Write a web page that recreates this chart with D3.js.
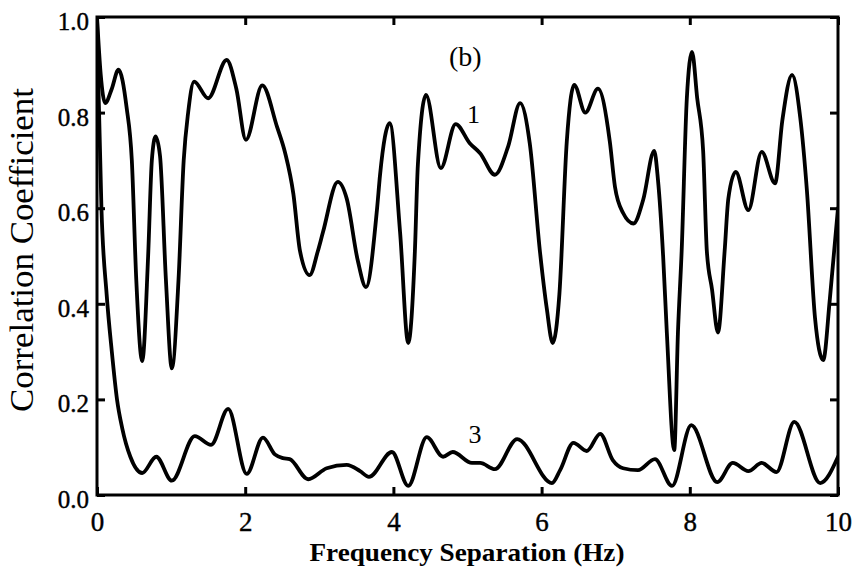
<!DOCTYPE html>
<html>
<head>
<meta charset="utf-8">
<script src="https://cdn.jsdelivr.net/npm/d3@7"></script>
<style>
  html, body { margin: 0; padding: 0; background: #fff; }
  svg { display: block; }
  text { font-family: "Liberation Serif", "DejaVu Serif", serif; fill: #000; }
</style>
</head>
<body>
<svg id="chart" width="853" height="573"></svg>
<script>
// ---- data ----
const xTicks = [0, 2, 4, 6, 8, 10];
const yTicks = [0.0, 0.2, 0.4, 0.6, 0.8, 1.0];
const xLabel = "Frequency Separation (Hz)";
const yLabel = "Correlation Coefficient";
const panelLabel = "(b)";
const seriesNames = ["1", "3"];

const freq1 = [0, 0.05, 0.11, 0.2, 0.29, 0.4, 0.47, 0.53, 0.61, 0.69, 0.74, 0.79, 0.85, 0.93, 1.01, 1.1, 1.17, 1.23, 1.31, 1.5, 1.75, 1.88, 2.01, 2.23, 2.43, 2.54, 2.65, 2.74, 2.87, 2.98, 3.05, 3.25, 3.37, 3.52, 3.63, 3.78, 3.82, 3.95, 4.09, 4.2, 4.29, 4.33, 4.44, 4.64, 4.84, 5.03, 5.17, 5.37, 5.55, 5.71, 5.84, 5.98, 6.07, 6.15, 6.24, 6.34, 6.44, 6.59, 6.76, 6.92, 6.99, 7.1, 7.24, 7.37, 7.52, 7.57, 7.64, 7.69, 7.79, 7.84, 7.89, 7.96, 8.03, 8.1, 8.18, 8.23, 8.3, 8.38, 8.47, 8.52, 8.62, 8.79, 8.97, 9.15, 9.25, 9.38, 9.49, 9.58, 9.69, 9.8, 9.89, 10];
const corr1 = [1.0, 0.88, 0.82, 0.85, 0.89, 0.81, 0.7, 0.45, 0.28, 0.5, 0.7, 0.75, 0.71, 0.45, 0.265, 0.45, 0.7, 0.8, 0.865, 0.83, 0.91, 0.85, 0.743, 0.857, 0.77, 0.715, 0.63, 0.51, 0.46, 0.51, 0.55, 0.655, 0.62, 0.49, 0.435, 0.6, 0.67, 0.778, 0.55, 0.318, 0.51, 0.69, 0.837, 0.684, 0.776, 0.736, 0.715, 0.67, 0.73, 0.82, 0.736, 0.506, 0.39, 0.318, 0.42, 0.74, 0.858, 0.80, 0.85, 0.74, 0.645, 0.59, 0.568, 0.617, 0.72, 0.66, 0.5, 0.34, 0.094, 0.34, 0.51, 0.83, 0.927, 0.83, 0.72, 0.51, 0.43, 0.34, 0.51, 0.62, 0.676, 0.596, 0.718, 0.652, 0.785, 0.879, 0.79, 0.638, 0.37, 0.282, 0.41, 0.6];

const freq3 = [0, 0.02, 0.06, 0.13, 0.2, 0.27, 0.34, 0.45, 0.61, 0.8, 1.01, 1.32, 1.54, 1.77, 2.02, 2.24, 2.4, 2.51, 2.6, 2.85, 3.1, 3.37, 3.55, 3.67, 3.98, 4.2, 4.45, 4.67, 4.8, 5.06, 5.17, 5.37, 5.67, 6.14, 6.25, 6.43, 6.61, 6.79, 6.96, 7.1, 7.3, 7.53, 7.76, 8.02, 8.37, 8.58, 8.79, 8.97, 9.17, 9.41, 9.76, 10];
const corr3 = [1.0, 0.85, 0.6, 0.42, 0.3, 0.2, 0.14, 0.08, 0.046, 0.08, 0.03, 0.123, 0.105, 0.18, 0.044, 0.12, 0.085, 0.077, 0.075, 0.033, 0.056, 0.063, 0.05, 0.038, 0.09, 0.019, 0.121, 0.08, 0.09, 0.067, 0.067, 0.054, 0.117, 0.025, 0.052, 0.109, 0.092, 0.128, 0.073, 0.056, 0.052, 0.075, 0.019, 0.146, 0.027, 0.067, 0.05, 0.067, 0.048, 0.153, 0.025, 0.08];

// ---- layout ----
const svg = d3.select("#chart");
const L = 97, R = 838, T = 17, B = 495;

const x = d3.scaleLinear().domain([0, 10]).range([L, R]);
const y = d3.scaleLinear().domain([0, 1]).range([B, T]);

// curves
const line = d3.line().x(d => x(d[0])).y(d => y(d[1])).curve(d3.curveMonotoneX);
const s1 = freq1.map((f, i) => [f, corr1[i]]);
const s3 = freq3.map((f, i) => [f, corr3[i]]);

svg.append("clipPath").attr("id", "clip")
  .append("rect").attr("x", L).attr("y", T).attr("width", R - L).attr("height", B - T);

const g = svg.append("g").attr("clip-path", "url(#clip)");
[s1, s3].forEach(s => {
  g.append("path").datum(s)
    .attr("d", line)
    .attr("fill", "none")
    .attr("stroke", "#000")
    .attr("stroke-width", 3.8)
    .attr("stroke-linejoin", "round")
    .attr("stroke-linecap", "round");
});

// axes (ticks pointing inward)
const tickLen = 8;
const fmtY = d3.format(".1f");
const axB = svg.append("g").attr("transform", `translate(0,${B})`)
  .call(d3.axisBottom(x).tickValues(xTicks).tickSize(-tickLen).tickPadding(17).tickFormat(d3.format("d")));
const axT = svg.append("g").attr("transform", `translate(0,${T})`)
  .call(d3.axisTop(x).tickValues(xTicks).tickSize(-tickLen).tickFormat(""));
const axL = svg.append("g").attr("transform", `translate(${L},0)`)
  .call(d3.axisLeft(y).tickValues(yTicks).tickSize(-tickLen).tickPadding(8).tickFormat(fmtY));
const axR = svg.append("g").attr("transform", `translate(${R},0)`)
  .call(d3.axisRight(y).tickValues(yTicks).tickSize(-tickLen).tickFormat(""));

[axB, axT, axL, axR].forEach(a => {
  a.select(".domain").remove();
  a.selectAll(".tick line").attr("stroke", "#000").attr("stroke-width", 3);
  a.selectAll(".tick text")
    .style("font-family", '"Liberation Serif", "DejaVu Serif", serif')
    .attr("fill", "#000")
    .attr("stroke", "#000").attr("stroke-width", 0.4);
});
axB.selectAll(".tick text").style("font-size", "27px");
axL.selectAll(".tick text").style("font-size", "25px").attr("dy", "0.5em");

// frame
svg.append("rect")
  .attr("x", L).attr("y", T).attr("width", R - L).attr("height", B - T)
  .attr("fill", "none").attr("stroke", "#000").attr("stroke-width", 3);

// titles
svg.append("text")
  .attr("x", 467).attr("y", 561)
  .attr("text-anchor", "middle")
  .attr("textLength", 315).attr("lengthAdjust", "spacingAndGlyphs")
  .style("font-size", "25px").style("font-weight", "bold")
  .text(xLabel);

svg.append("text")
  .attr("transform", `translate(33,${250}) rotate(-90)`)
  .attr("text-anchor", "middle")
  .attr("textLength", 324).attr("lengthAdjust", "spacingAndGlyphs")
  .style("font-size", "33px")
  .text(yLabel);

// annotations
svg.append("text").attr("x", x(4.97)).attr("y", 66).attr("text-anchor", "middle")
  .style("font-size", "28px").text(panelLabel);
svg.append("text").attr("x", x(5.08)).attr("y", 123).attr("text-anchor", "middle")
  .style("font-size", "26px").text(seriesNames[0]);
svg.append("text").attr("x", x(5.1)).attr("y", 443).attr("text-anchor", "middle")
  .style("font-size", "26px").text(seriesNames[1]);
</script>
</body>
</html>
